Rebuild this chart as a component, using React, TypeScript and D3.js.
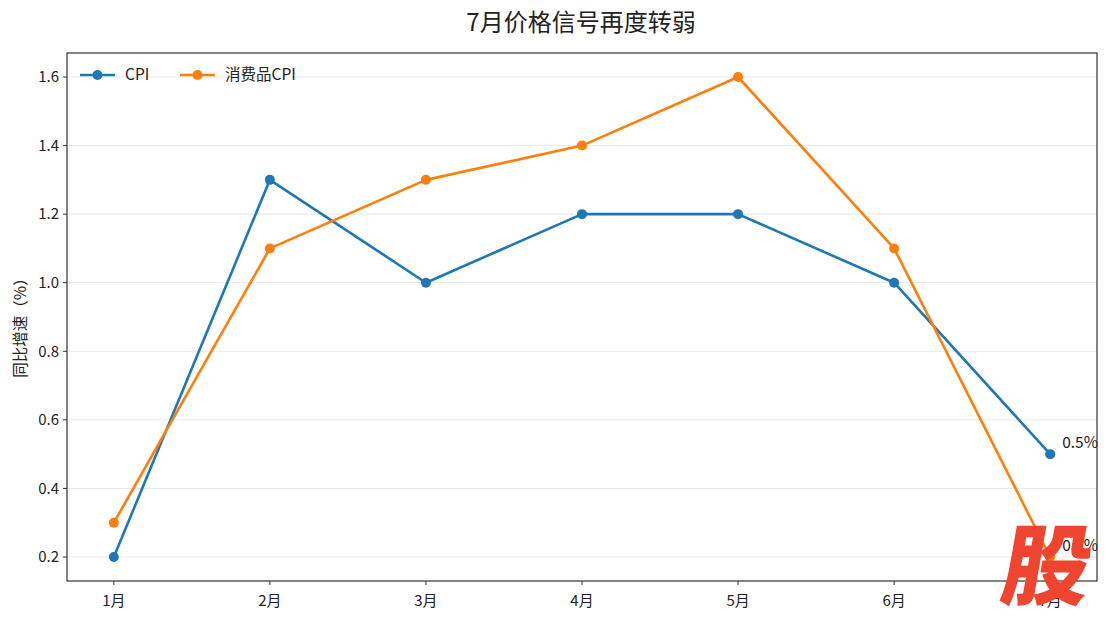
import React from "react";
import * as d3 from "d3";

const months = ["1月", "2月", "3月", "4月", "5月", "6月", "7月"];
const cpi = [0.2, 1.3, 1.0, 1.2, 1.2, 1.0, 0.5];
const consumerCpi = [0.3, 1.1, 1.3, 1.4, 1.6, 1.1, 0.2];
const yTicks = [0.2, 0.4, 0.6, 0.8, 1.0, 1.2, 1.4, 1.6];
const seriesNames = ["CPI", "消费品CPI"];
const colors = ["#1f77b4", "#ff7f0e"];

const W = 1110, H = 621;
const L = 67, R = 1097, T = 53, B = 581;
const FONT = "'Noto Sans CJK SC', 'Noto Sans', sans-serif";

export default function App() {
  const x = d3.scaleLinear().domain([-0.3, months.length - 1 + 0.3]).range([L, R]);
  const y = d3.scaleLinear().domain([0.13, 1.67]).range([B, T]);
  const line = d3.line<number>().x((_, i) => x(i)).y((d) => y(d));
  const series = [cpi, consumerCpi];

  return (
    <svg width={W} height={H} style={{ position: "absolute", left: 0, top: 0, fontFamily: FONT }}>
      <rect width={W} height={H} fill="#fff" />
      <text x={(L + R) / 2 - 1} y={31} textAnchor="middle" fontSize={24} fill="#222">7月价格信号再度转弱</text>
      {yTicks.map((t) => (
        <g key={t}>
          <line x1={L} x2={R} y1={y(t)} y2={y(t)} stroke="#e8e8e8" strokeWidth={1} />
          <line x1={L - 4} x2={L} y1={y(t)} y2={y(t)} stroke="#333" />
          <text x={L - 8} y={y(t)} dy="0.35em" textAnchor="end" fontSize={15} fill="#222">{t.toFixed(1)}</text>
        </g>
      ))}
      {months.map((m, i) => (
        <g key={m}>
          <line x1={x(i)} x2={x(i)} y1={B} y2={B + 4} stroke="#333" />
          <text x={x(i)} y={B + 25} textAnchor="middle" fontSize={15} fill="#222">{m}</text>
        </g>
      ))}
      <text transform={`translate(26,${(T + B) / 2 + 7}) rotate(-90)`} textAnchor="middle" fontSize={15.5} fill="#222">同比增速（%）</text>
      {series.map((s, k) => (
        <g key={k}>
          <path d={line(s) || ""} fill="none" stroke={colors[k]} strokeWidth={2.6} strokeLinejoin="round" />
          {s.map((v, i) => (
            <circle key={i} cx={x(i)} cy={y(v)} r={5} fill={colors[k]} />
          ))}
        </g>
      ))}
      <text x={x(6) + 12} y={y(cpi[6]) - 6} fontSize={15.5} fill="#222">{cpi[6].toFixed(1)}%</text>
      <text x={x(6) + 12} y={y(consumerCpi[6]) - 6} fontSize={15.5} fill="#222">{consumerCpi[6].toFixed(1)}%</text>
      <rect x={L} y={T} width={R - L} height={B - T} fill="none" stroke="#333" strokeWidth={1.2} />
      {seriesNames.map((n, k) => {
        const lx = 80 + k * 100;
        const ly = 75;
        return (
          <g key={n}>
            <line x1={lx} x2={lx + 35} y1={ly} y2={ly} stroke={colors[k]} strokeWidth={2.6} />
            <circle cx={lx + 17.5} cy={ly} r={5} fill={colors[k]} />
            <text x={lx + 45} y={ly} dy="0.35em" fontSize={15.5} fill="#222">{n}</text>
          </g>
        );
      })}
      <text x={1042} y={598} textAnchor="middle" fontSize={88} fontWeight={900} fill="#ee4430"
        transform="skewX(-10)" style={{ transformOrigin: "1042px 598px", transformBox: "view-box" } as any}>股</text>
    </svg>
  );
}
